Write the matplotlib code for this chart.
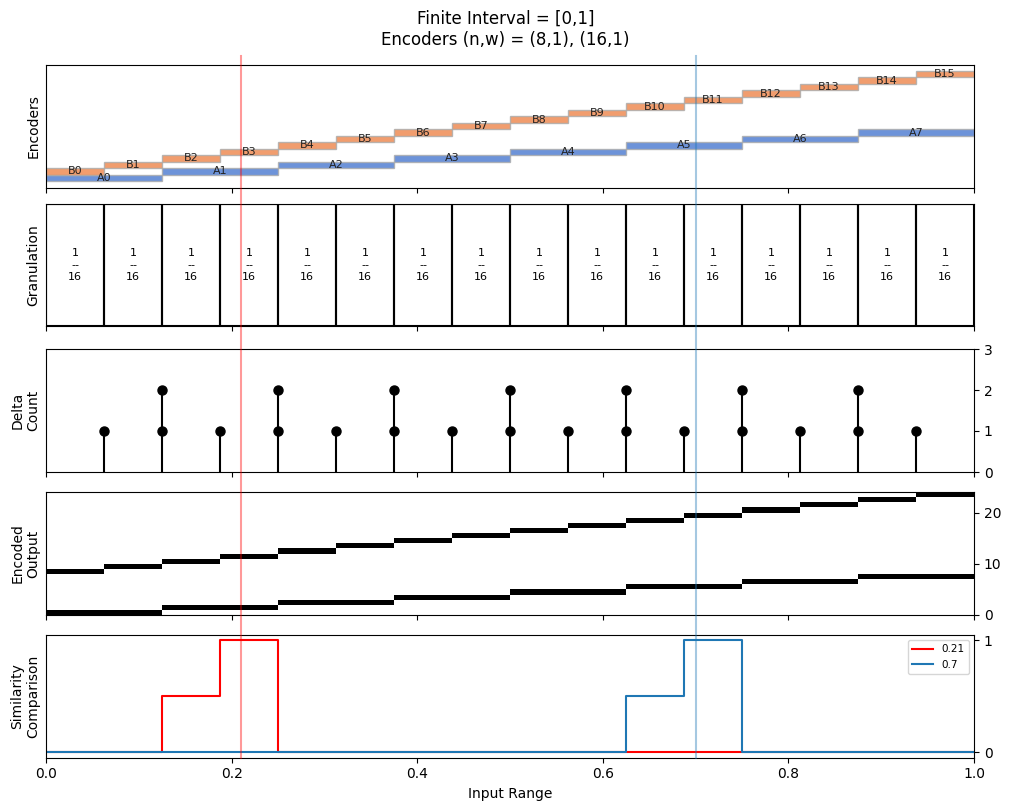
import matplotlib
matplotlib.use("Agg")
import matplotlib.pyplot as plt
from matplotlib.lines import Line2D
from matplotlib.patches import Rectangle
import matplotlib.transforms as mtransforms

# ---------------- data ----------------
title = "Finite Interval = [0,1]\nEncoders (n,w) = (8,1), (16,1)"

a_labels = ["A0", "A1", "A2", "A3", "A4", "A5", "A6", "A7"]
a_starts = [0.0, 0.125, 0.25, 0.375, 0.5, 0.625, 0.75, 0.875]
a_width = 0.125
a_levels = [0, 1, 2, 3, 4, 5, 6, 7]

b_labels = ["B0", "B1", "B2", "B3", "B4", "B5", "B6", "B7",
            "B8", "B9", "B10", "B11", "B12", "B13", "B14", "B15"]
b_starts = [0.0, 0.0625, 0.125, 0.1875, 0.25, 0.3125, 0.375, 0.4375,
            0.5, 0.5625, 0.625, 0.6875, 0.75, 0.8125, 0.875, 0.9375]
b_width = 0.0625
b_levels = [1, 2, 3, 4, 5, 6, 7, 8, 9, 10, 11, 12, 13, 14, 15, 16]

gran_label = "1\n--\n16"

delta_x = [0.0625, 0.125, 0.1875, 0.25, 0.3125, 0.375, 0.4375, 0.5,
           0.5625, 0.625, 0.6875, 0.75, 0.8125, 0.875, 0.9375]
delta_counts = [1, 2, 1, 2, 1, 2, 1, 2, 1, 2, 1, 2, 1, 2, 1]

enc_a_bits = [0, 1, 2, 3, 4, 5, 6, 7]
enc_b_bits = [8, 9, 10, 11, 12, 13, 14, 15, 16, 17, 18, 19, 20, 21, 22, 23]

query_points = [0.21, 0.7]
query_labels = ["0.21", "0.7"]
sim_x = [0.0, 0.125, 0.1875, 0.25, 0.625, 0.6875, 0.75, 1.0]
sim_021 = [0.0, 0.5, 1.0, 0.0, 0.0, 0.0, 0.0, 0.0]
sim_07 = [0.0, 0.0, 0.0, 0.0, 0.5, 1.0, 0.0, 0.0]

# ---------------- figure ----------------
W, H = 1011, 811
fig = plt.figure(figsize=(W / 100, H / 100), dpi=100)

def pos(top, bottom):
    left, right = 46, 974
    return [left / W, (H - bottom) / H, (right - left) / W, (bottom - top) / H]

ax1 = fig.add_axes(pos(65, 188))
ax2 = fig.add_axes(pos(204, 326), sharex=ax1)
ax3 = fig.add_axes(pos(349, 472), sharex=ax1)
ax4 = fig.add_axes(pos(492, 615), sharex=ax1)
ax5 = fig.add_axes(pos(635, 757.5), sharex=ax1)

fig.suptitle(title, fontsize=12, y=0.988)

blue = "#4878D0"
orange = "#EE854A"

# Encoders
for lab, s, lv in zip(a_labels, a_starts, a_levels):
    ax1.barh(lv, a_width, left=s, height=0.95, color=blue, alpha=0.8,
             edgecolor="#aaaaaa", linewidth=1)
    ax1.text(s + a_width / 2, lv, lab, ha="center", va="center", fontsize=8, color="#222222")
for lab, s, lv in zip(b_labels, b_starts, b_levels):
    ax1.barh(lv, b_width, left=s, height=0.95, color=orange, alpha=0.8,
             edgecolor="#aaaaaa", linewidth=1)
    ax1.text(s + b_width / 2, lv, lab, ha="center", va="center", fontsize=8, color="#222222")
ax1.set_ylim(-1.55, 17.4)
ax1.set_yticks([])
ax1.set_ylabel("Encoders")

# Granulation
for s in b_starts:
    ax2.add_patch(Rectangle((s, 0), b_width, 1, fill=False, edgecolor="black", linewidth=1.5))
    ax2.text(s + b_width / 2, 0.5, gran_label, ha="center", va="center", fontsize=8,
             linespacing=1.3)
ax2.set_ylim(0, 1)
ax2.set_yticks([])
ax2.set_ylabel("Granulation")

# Delta count
for x, c in zip(delta_x, delta_counts):
    ax3.vlines(x, 0, c, color="black", linewidth=1.5)
    for k in range(1, c + 1):
        ax3.plot(x, k, "o", color="black", markersize=6.5)
ax3.set_ylim(0, 3)
ax3.set_yticks([0, 1, 2, 3])
ax3.yaxis.tick_right()
ax3.set_ylabel("Delta\nCount")

# Encoded output
for s, bit in zip(a_starts, enc_a_bits):
    ax4.barh(bit, a_width, left=s, height=1, align="edge", color="black", linewidth=0)
for s, bit in zip(b_starts, enc_b_bits):
    ax4.barh(bit, b_width, left=s, height=1, align="edge", color="black", linewidth=0)
ax4.set_ylim(0, 24)
ax4.set_yticks([0, 10, 20])
ax4.yaxis.tick_right()
ax4.set_ylabel("Encoded\nOutput")

# Similarity
ax5.step(sim_x, sim_021, where="post", color="red", linewidth=1.5, label=query_labels[0])
ax5.step(sim_x, sim_07, where="post", color="tab:blue", linewidth=1.5, label=query_labels[1])
ax5.set_ylim(-0.045, 1.045)
ax5.set_yticks([0, 1])
ax5.yaxis.tick_right()
ax5.set_ylabel("Similarity\nComparison")
ax5.legend(loc="upper right", fontsize=7.5)
ax5.set_xlabel("Input Range")
ax5.set_xlim(0, 1)

for ax in (ax1, ax2, ax3, ax4):
    ax.tick_params(axis="x", labelbottom=False)

# Query vertical lines spanning the figure
trans = mtransforms.blended_transform_factory(ax5.transData, fig.transFigure)
y0 = (H - 757.5) / H
y1 = (H - 56) / H
for q, col in zip(query_points, ["red", "tab:blue"]):
    fig.add_artist(Line2D([q, q], [y0, y1], transform=trans, color=col, alpha=0.4,
                          linewidth=1.5))

fig.savefig("out.png", dpi=100)
